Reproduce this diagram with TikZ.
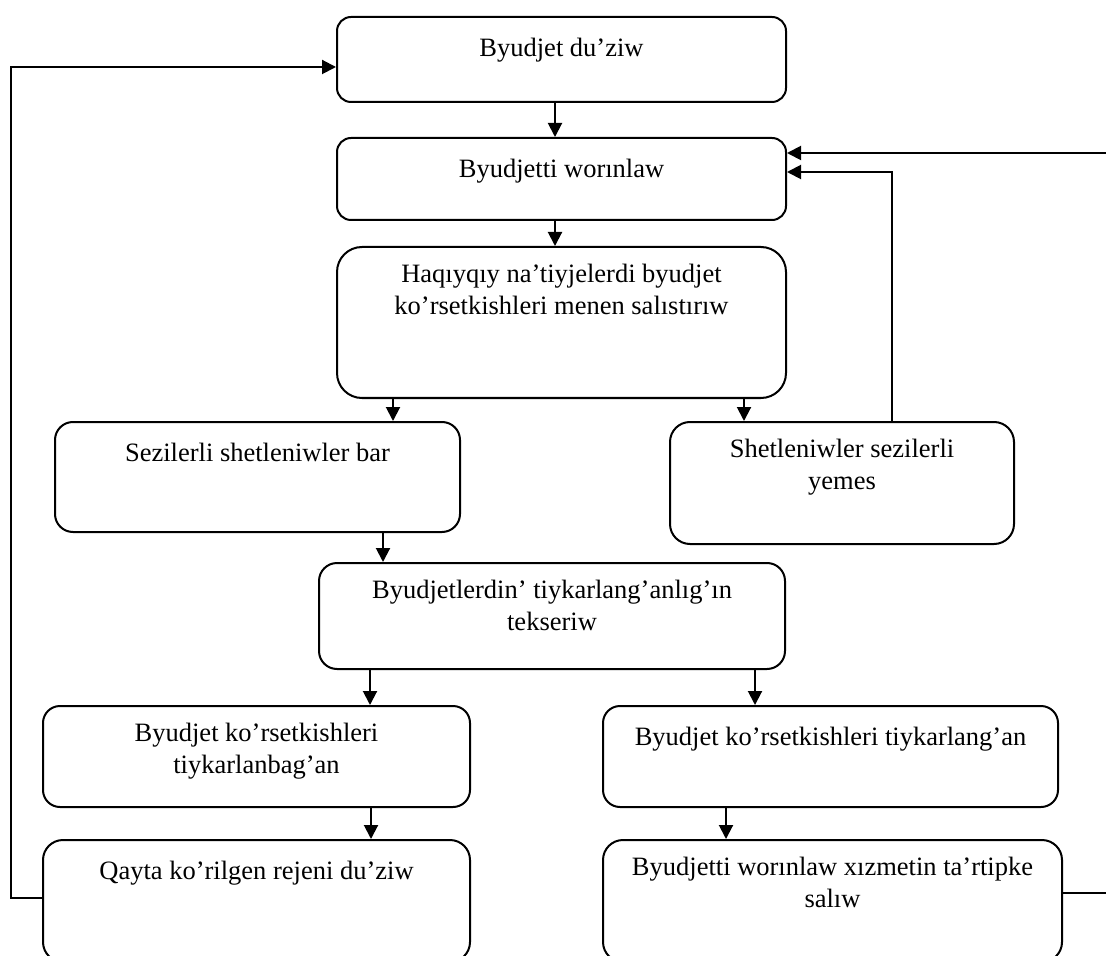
\documentclass[tikz,border=0pt]{standalone}
\usepackage{fontspec}
\setmainfont{Liberation Serif}
\usetikzlibrary{arrows.meta,fit}

\begin{document}
\begin{tikzpicture}[x=0.5pt,y=-0.5pt,
        box/.style={draw=black,line width=1pt,inner sep=0pt},
        lbl/.style={anchor=north,inner sep=0pt,align=center,
            font=\fontsize{13.25}{16}\selectfont,execute at begin node=\strut},
        arr/.style={line width=1pt,-{Triangle[length=7pt,width=7pt]}}]
    \useasboundingbox (0,0) rectangle (1106,956);
    % boxes: name / corners / radius / text
    \foreach \nm/\xa/\ya/\xb/\yb/\rad/\txt in {
        duziw/337/17/786/102/7/{Byudjet du’ziw},
        worinlaw/337/138/786/220/7/{Byudjetti worınlaw},
        salistiriw/337/247/786/398/12.5/{Haqıyqıy na’tiyjelerdi byudjet\\ko’rsetkishleri menen salıstırıw},
        bar/55/422/460/532/9/{Sezilerli shetleniwler bar},
        yemes/670/422/1014/544/10/{Shetleniwler sezilerli\\yemes},
        tekseriw/319/563/785/669/9/{Byudjetlerdin’ tiykarlang’anlıg’ın\\tekseriw},
        tiykarsiz/43/706/470/807/8.5/{Byudjet ko’rsetkishleri\\tiykarlanbag’an},
        tiykarli/603/706/1058/807/8.5/{Byudjet ko’rsetkishleri tiykarlang’an},
        qayta/43/840/470/962/10/{Qayta ko’rilgen rejeni du’ziw},
        tartip/603/840/1062/962/10/{Byudjetti worınlaw xızmetin ta’rtipke\\salıw}}
    {
        \node[box,rounded corners=\rad pt,fit={(\xa,\ya) (\xb,\yb)}] (\nm) {};
        \node[lbl] (\nm-t) at ([yshift=-8.8pt]\nm.north) {\txt};
    }
    % arrows
    \draw[arr] (duziw.south -| 555,0) -- (worinlaw.north -| 555,0);
    \draw[arr] (worinlaw.south -| 555,0) -- (salistiriw.north -| 555,0);
    \draw[arr] (salistiriw.south -| 393,0) -- (bar.north -| 393,0);
    \draw[arr] (salistiriw.south -| 744,0) -- (yemes.north -| 744,0);
    \draw[arr] (yemes.north -| 892,0) |- (worinlaw.east |- 0,172);
    \draw[arr] (tartip.east |- 0,893) -| (1116,153) -- (worinlaw.east |- 0,153);
    \draw[arr] (bar.south -| 383,0) -- (tekseriw.north -| 383,0);
    \draw[arr] (tekseriw.south -| 370,0) -- (tiykarsiz.north -| 370,0);
    \draw[arr] (tekseriw.south -| 755,0) -- (tiykarli.north -| 755,0);
    \draw[arr] (tiykarsiz.south -| 371,0) -- (qayta.north -| 371,0);
    \draw[arr] (tiykarli.south -| 726,0) -- (tartip.north -| 726,0);
    \draw[arr] (qayta.west |- 0,898) -| (11,67) -- (duziw.west |- 0,67);
\end{tikzpicture}
\end{document}
